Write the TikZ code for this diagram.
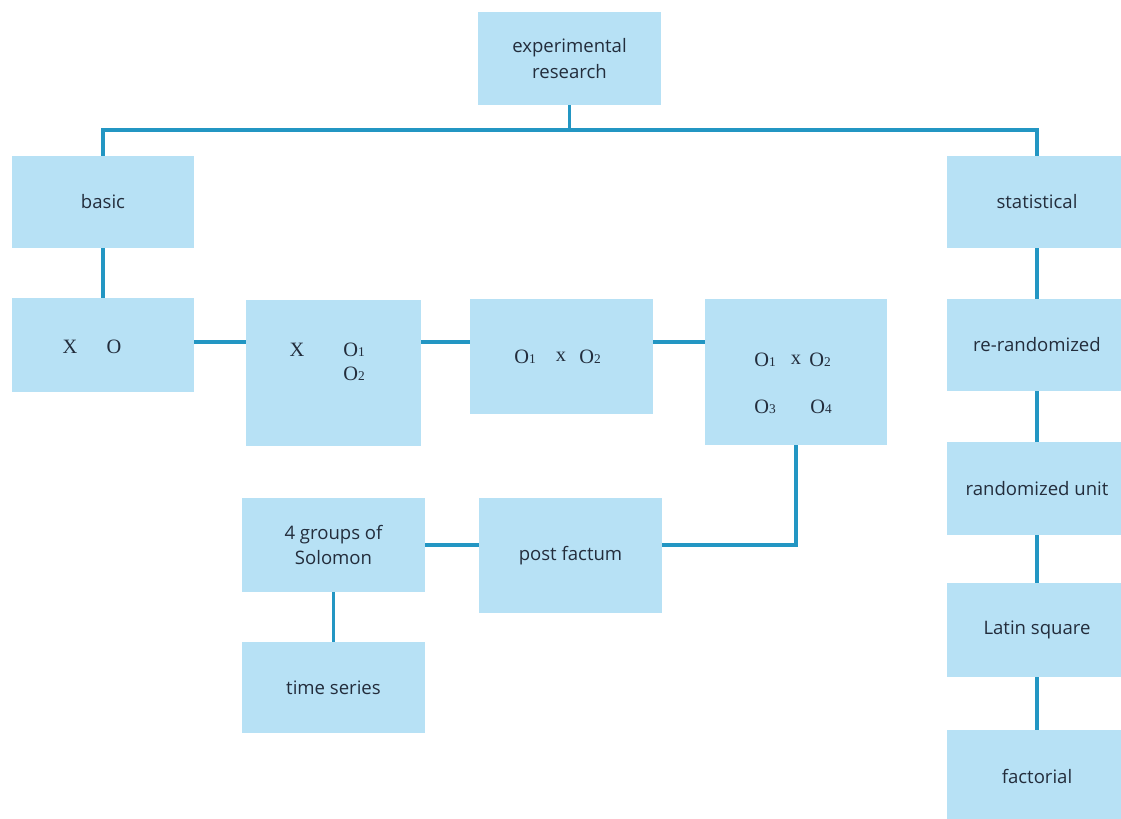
\documentclass[tikz,border=0pt]{standalone}
\usepackage{fontspec}
\setmainfont{Open Sans}
\newfontfamily\tnr{Liberation Serif}
\usepackage{xcolor}
\usetikzlibrary{positioning, calc}
\definecolor{lineblue}{RGB}{35,150,195}
\definecolor{boxblue}{RGB}{183,225,245}
\definecolor{textdark}{RGB}{35,45,60}
\tikzstyle{box} = [fill=boxblue, text=textdark, inner sep=0pt, minimum width=4.575cm, minimum height=2.325cm, align=center, font=\fontsize{13.2}{18}\selectfont]
\tikzstyle{sym} = [text=textdark, inner sep=0pt, font=\tnr\fontsize{14.5}{16}\selectfont]
\tikzstyle{link} = [lineblue, line width=2.2pt]
\newcommand{\obs}[1]{O{\fontsize{9.5}{9}\selectfont #1}}

\begin{document}
\begin{tikzpicture}[x=0.025cm, y=-0.025cm]
    \useasboundingbox (0,0) rectangle (1121,819);

    % Top
    \node[box] (exp) at (569.5,58.5) {experimental\\research};
    \coordinate (bus) at (569.5,130);
    \coordinate (row) at (103,342);

    % Left branch
    \node[box, minimum width=4.55cm, minimum height=2.3cm] (basic) at (103,202) {basic};
    \node[box, minimum width=4.55cm, minimum height=2.35cm] (xo) at (103,345) {};
    \node[box, minimum width=4.375cm, minimum height=3.65cm] (xoo) at (333.5,373) {};
    \node[box, minimum height=2.875cm] (oxo) at (561.5,356.5) {};
    \node[box, minimum width=4.55cm, minimum height=3.65cm] (four) at (796,372) {};
    \node[box, minimum height=2.35cm] (solomon) at (333.5,545) {4 groups of\\Solomon};
    \node[box, minimum height=2.875cm] (postf) at (570.5,555.5) {post factum};
    \node[box, minimum height=2.275cm] (tseries) at (333.5,687.5) {time series};

    % Symbols
    \node[sym] (xo-x) at (70,347) {X};
    \node[sym] (xo-o) at (114,347) {O};
    \node[sym] (xoo-x) at (297,350) {X};
    \node[sym] (xoo-o1) at (354,350) {\obs{1}};
    \node[sym] (xoo-o2) at (354,374) {\obs{2}};
    \node[sym] (oxo-o1) at (525,357) {\obs{1}};
    \node[sym] (oxo-x) at (561,357) {x};
    \node[sym] (oxo-o2) at (590,357) {\obs{2}};
    \node[sym] (four-o1) at (765,360) {\obs{1}};
    \node[sym] (four-x) at (796,360) {x};
    \node[sym] (four-o2) at (820,360) {\obs{2}};
    \node[sym] (four-o3) at (765,407) {\obs{3}};
    \node[sym] (four-o4) at (821,407) {\obs{4}};

    % Right branch
    \node[box, minimum width=4.5cm, minimum height=2.3cm] (stat) at (1037,202) {statistical};
    \node[box, minimum width=4.5cm, minimum height=2.3cm] (rerand) at (1037,345) {re-randomized};
    \node[box, minimum width=4.5cm] (runit) at (1037,488.5) {randomized unit};
    \node[box, minimum width=4.5cm, minimum height=2.35cm] (latin) at (1037,630) {Latin square};
    \node[box, minimum width=4.5cm] (fact) at (1037,776.5) {factorial};

    % Connectors
    \draw[link] (exp.south) -- (bus);
    \draw[link] (basic.north) |- (bus) -| (stat.north);
    \draw[link] (basic.south) -- (xo.north);
    \draw[link] (xo.east |- row) -- (xoo.west |- row);
    \draw[link] (xoo.east |- row) -- (oxo.west |- row);
    \draw[link] (oxo.east |- row) -- (four.west |- row);
    \draw[link] (four.south) |- (postf.east |- solomon.east);
    \draw[link] (solomon.east) -- (postf.west |- solomon.east);
    \draw[link] (solomon.south) -- (tseries.north);
    \draw[link] (stat.south) -- (rerand.north);
    \draw[link] (rerand.south) -- (runit.north);
    \draw[link] (runit.south) -- (latin.north);
    \draw[link] (latin.south) -- (fact.north);
\end{tikzpicture}
\end{document}
